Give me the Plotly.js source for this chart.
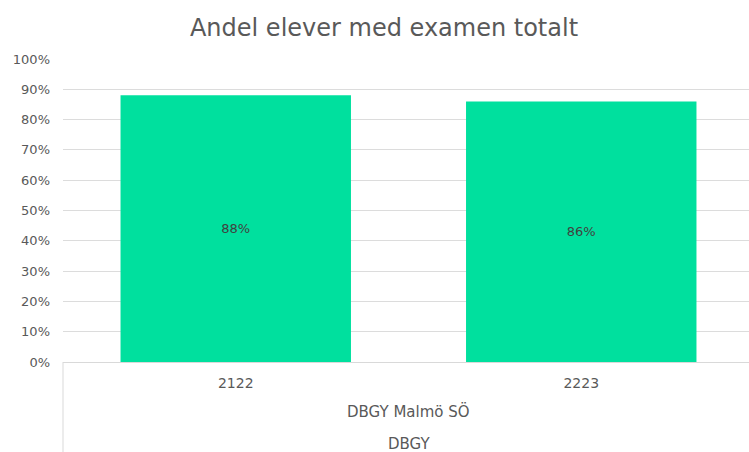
<!DOCTYPE html>
<html>
<head>
<meta charset="utf-8">
<script src="https://cdn.plot.ly/plotly-3.0.1.min.js"></script>
<style>
html,body{margin:0;padding:0;overflow:hidden;background:#fff;}
#chart{width:754px;height:452px;}
</style>
</head>
<body>
<div id="chart"></div>
<script>
const categories = ["2122", "2223"];
const values = [0.88, 0.86];
const level2Label = "DBGY Malmö SÖ";
const level3Label = "DBGY";
const chartTitle = "Andel elever med examen totalt";
const yTickVals = [0, 0.1, 0.2, 0.3, 0.4, 0.5, 0.6, 0.7, 0.8, 0.9, 1.0];
const yTickText = ["0%", "10%", "20%", "30%", "40%", "50%", "60%", "70%", "80%", "90%", "100%"];

const fontFam = "DejaVu Sans, sans-serif";
const grey = "#595959";

const trace = {
  type: "bar",
  x: categories,
  y: values,
  width: 0.667,
  marker: {color: "#00E09E"},
  text: values.map(v => Math.round(v * 100) + "%"),
  textposition: "inside",
  insidetextanchor: "middle",
  textangle: 0,
  textfont: {family: fontFam, size: 13, color: "#404040"},
  hoverinfo: "none"
};

const layout = {
  width: 754,
  height: 452,
  margin: {l: 63, r: 0, t: 59, b: 90},
  paper_bgcolor: "#fff",
  plot_bgcolor: "#fff",
  showlegend: false,
  title: {
    text: chartTitle,
    font: {family: fontFam, size: 24, color: grey},
    x: 384 / 754,
    xref: "container",
    xanchor: "center",
    y: 1 - 28 / 452,
    yref: "container",
    yanchor: "middle"
  },
  xaxis: {
    type: "category",
    range: [-0.5, 1.5],
    showgrid: false,
    showline: true,
    linecolor: "#d9d9d9",
    linewidth: 1,
    ticks: "",
    tickfont: {family: fontFam, size: 14, color: grey},
    ticklabelstandoff: 8,
    zeroline: false,
    fixedrange: true
  },
  yaxis: {
    range: [0, 1],
    tickvals: yTickVals,
    ticktext: yTickText,
    tickfont: {family: fontFam, size: 13, color: grey},
    showgrid: true,
    gridcolor: "#dcdcdc",
    gridwidth: 1,
    showline: false,
    zeroline: false,
    ticks: "",
    ticklabelstandoff: 12,
    fixedrange: true
  },
  annotations: [
    {text: level2Label, xref: "paper", yref: "paper", x: 0.5, y: -49 / 303, xanchor: "center", yanchor: "middle",
     showarrow: false, font: {family: fontFam, size: 15, color: grey}},
    {text: level3Label, xref: "paper", yref: "paper", x: 0.5, y: -82 / 303, xanchor: "center", yanchor: "middle",
     showarrow: false, font: {family: fontFam, size: 15, color: grey}}
  ],
  shapes: [
    {type: "line", xref: "paper", yref: "paper", x0: 0, x1: 0, y0: 0, y1: -90 / 303,
     line: {color: "#d9d9d9", width: 1}}
  ]
};

Plotly.newPlot("chart", [trace], layout, {displayModeBar: false, staticPlot: true});
</script>
</body>
</html>
